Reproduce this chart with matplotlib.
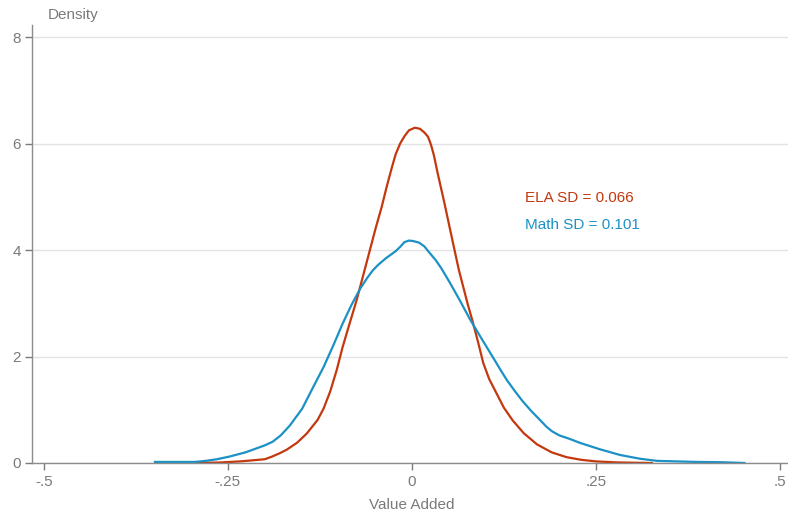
import matplotlib
matplotlib.use("Agg")
import matplotlib.pyplot as plt

# kernel density estimates of teacher value added, read per subject
ela_x = [-0.293, -0.260, -0.233, -0.200, -0.190, -0.180, -0.170, -0.156, -0.143,
         -0.128, -0.120, -0.111, -0.102, -0.094, -0.085, -0.075, -0.066, -0.057,
         -0.049, -0.041, -0.034, -0.027, -0.022, -0.016, -0.010, -0.004, 0.004,
         0.011, 0.017, 0.022, 0.026, 0.030, 0.035, 0.044, 0.051, 0.058, 0.064,
         0.070, 0.076, 0.082, 0.090, 0.097, 0.105, 0.115, 0.125, 0.137, 0.152,
         0.170, 0.190, 0.210, 0.230, 0.250, 0.280, 0.326]
ela_y = [0.0, 0.01, 0.03, 0.07, 0.12, 0.18, 0.25, 0.38, 0.55,
         0.81, 1.02, 1.34, 1.75, 2.18, 2.60, 3.06, 3.53, 4.0,
         4.42, 4.81, 5.20, 5.56, 5.80, 6.0, 6.14, 6.25, 6.30,
         6.28, 6.21, 6.13, 5.98, 5.78, 5.45, 4.90, 4.45, 4.0, 3.62,
         3.30, 2.98, 2.69, 2.27, 1.88, 1.58, 1.31, 1.04, 0.80, 0.56,
         0.35, 0.20, 0.11, 0.06, 0.03, 0.01, 0.0]

math_x = [-0.349, -0.320, -0.295, -0.280, -0.265, -0.248, -0.226, -0.210, -0.200,
          -0.189, -0.178, -0.166, -0.158, -0.149, -0.135, -0.120, -0.107, -0.094,
          -0.082, -0.070, -0.061, -0.053, -0.046, -0.035, -0.028, -0.022, -0.016,
          -0.010, -0.004, 0.002, 0.010, 0.017, 0.024, 0.032, 0.040, 0.052,
          0.065, 0.079, 0.095, 0.110, 0.120, 0.129, 0.140, 0.150, 0.162, 0.174,
          0.183, 0.190, 0.200, 0.215, 0.228, 0.255, 0.283, 0.310, 0.333, 0.360,
          0.387, 0.420, 0.452]
math_y = [0.02, 0.02, 0.02, 0.04, 0.07, 0.12, 0.20, 0.28, 0.33,
          0.40, 0.52, 0.70, 0.85, 1.02, 1.40, 1.80, 2.20, 2.62,
          2.97, 3.28, 3.47, 3.62, 3.72, 3.85, 3.92, 3.98, 4.06,
          4.15, 4.18, 4.17, 4.14, 4.07, 3.95, 3.82, 3.66, 3.38,
          3.06, 2.70, 2.33, 1.99, 1.76, 1.56, 1.35, 1.17, 0.98, 0.81,
          0.68, 0.60, 0.52, 0.45, 0.38, 0.26, 0.15, 0.08, 0.04, 0.03,
          0.02, 0.015, 0.0]

labels = ["ELA SD = 0.066", "Math SD = 0.101"]
xticks = [-0.5, -0.25, 0, 0.25, 0.5]
xticklabels = ["-.5", "-.25", "0", ".25", ".5"]
yticks = [0, 2, 4, 6, 8]

RED = "#c4380e"
BLUE = "#1b91c5"
GREY = "#7a7a7a"

plt.rcParams["font.family"] = ["Liberation Sans", "DejaVu Sans"]

fig = plt.figure(figsize=(7.88, 5.16), dpi=100)
ax = fig.add_axes([32 / 788, 53 / 516, 756 / 788, 438 / 516])

ax.plot(ela_x, ela_y, color=RED, lw=1.6, solid_joinstyle="round")
ax.plot(math_x, math_y, color=BLUE, lw=1.6, solid_joinstyle="round")

ax.set_xlim(-0.516, 0.511)
ax.set_ylim(0, 8.23)

ax.set_xticks(xticks)
ax.set_xticklabels(xticklabels)
ax.set_yticks(yticks)
ax.tick_params(colors=GREY, labelcolor=GREY, labelsize=11, length=5, width=1)
ax.tick_params(axis="x", pad=4)
ax.tick_params(axis="y", pad=3)

ax.grid(axis="y", color="#e3e3e3", lw=1)
ax.set_axisbelow(True)
for s in ["top", "right"]:
    ax.spines[s].set_visible(False)
for s in ["left", "bottom"]:
    ax.spines[s].set_color("#8c8c8c")
    ax.spines[s].set_linewidth(1)

ax.text(0.154, 4.98, labels[0], color=RED, fontsize=11, va="center")
ax.text(0.154, 4.47, labels[1], color=BLUE, fontsize=11, va="center")

fig.text(48 / 788, 1 - 15 / 516, "Density", color=GREY, fontsize=11,
         ha="left", va="center")
fig.text(412 / 788, 1 - 505 / 516, "Value Added", color=GREY, fontsize=11,
         ha="center", va="center")

fig.savefig("out.png", dpi=100)
